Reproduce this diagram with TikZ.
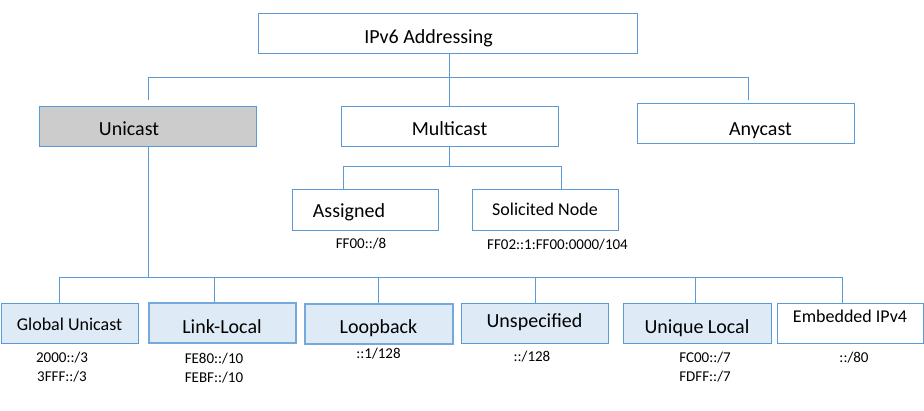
\documentclass[tikz,border=0pt]{standalone}
\usepackage{fontspec}
\setmainfont{Carlito}
\usetikzlibrary{positioning}
\definecolor{lineblue}{RGB}{91,155,213}
\definecolor{leafblue}{RGB}{222,235,247}
\definecolor{unigray}{RGB}{204,204,204}
\newcommand{\bigfont}{\fontsize{20}{24}\selectfont}
\newcommand{\midfont}{\fontsize{18}{22}\selectfont}
\newcommand{\addrfont}{\fontsize{15}{19}\selectfont}

\begin{document}
\begin{tikzpicture}[x=1pt,y=-1pt,
  box/.style={draw=lineblue,line width=1pt,minimum height=40pt,inner sep=0pt,font=\bigfont},
  drop/.style={text height=#1,text depth=0pt},
  leaf/.style={box,fill=leafblue},
  thickleaf/.style={leaf,line width=2pt,draw=lineblue!85},
  addr/.style={font=\addrfont,align=center,inner sep=0pt},
  link/.style={draw=lineblue,line width=1pt}]
  \useasboundingbox (0,0) rectangle (924,410);
  % top levels
  \node[box,drop=20pt,minimum width=379pt] (top) at (447.5,33) {IPv6 Addressing\hspace{38pt}\null};
  \node[box,drop=18pt,fill=unigray,minimum width=217pt] (uni) at (148,126) {Unicast\hspace{38pt}\null};
  \node[box,drop=18pt,minimum width=217pt] (multi) at (449.5,126) {Multicast};
  \node[box,drop=24pt,minimum width=217pt] (any) at (745.5,123) {\hspace{30pt}Anycast};
  \coordinate (tb-uni) at (148,77);
  \coordinate (tb-any) at (748,77);
  \coordinate (tip-uni) at (148,100);
  \coordinate (tip-any) at (748,100);
  \draw[link] (tip-uni) -- (tb-uni) -- (tb-any) -- (tip-any);
  \draw[link] (top.south -| multi.north) -- (multi.north);
  % multicast
  \node[box,drop=16pt,minimum width=146pt,minimum height=41pt] (asg) at (365,209.5) {Assigned\hspace{32pt}\null};
  \node[box,drop=12pt,minimum width=146pt,minimum height=41pt,font=\midfont] (sol) at (545,209.5) {Solicited Node};
  \node[addr] (asg-a) at (361,244) {FF00::/8};
  \node[addr] (sol-a) at (557.5,245) {FF02::1:FF00:0000/104};
  \coordinate (mb-asg) at (343,166);
  \coordinate (mb-sol) at (561,166);
  \draw[link] (mb-asg) -- (mb-sol);
  \draw[link] (multi.south) -- (multi.south |- mb-asg);
  \draw[link] (mb-asg) -- (mb-asg |- asg.north);
  \draw[link] (mb-sol) -- (mb-sol |- sol.north);
  % unicast
  \node[leaf,drop=14pt,minimum width=137pt,font=\midfont] (gu) at (69.5,323) {Global Unicast};
  \node[thickleaf,drop=22pt,minimum width=147pt] (ll) at (222,322.5) {Link-Local};
  \node[thickleaf,drop=18pt,minimum width=148pt] (lb) at (378.5,324) {Loopback};
  \node[leaf,drop=8pt,minimum width=147pt] (us) at (534.5,323) {Unspecified};
  \node[leaf,drop=20pt,minimum width=148pt] (ul) at (697,323.5) {Unique Local};
  \node[box,text height=0pt,text depth=2pt,minimum width=146pt,font=\midfont] (emb) at (850,323) {Embedded IPv4};
  \node[addr] (gu-a) at (62,367) {2000::/3\\3FFF::/3};
  \node[addr] (ll-a) at (214,368) {FE80::/10\\FEBF::/10};
  \node[addr] (lb-a) at (378.5,354) {::1/128};
  \node[addr] (us-a) at (532,357) {::/128};
  \node[addr] (ul-a) at (705,367) {FC00::/7\\FDFF::/7};
  \node[addr] (emb-a) at (854,358) {::/80};
  \foreach \n/\x in {gu/59,ll/214,lb/378,us/535,ul/695,emb/842}{
    \coordinate (bb-\n) at (\x,277);
    \draw[link] (bb-\n) -- (bb-\n |- \n.north);
  }
  \draw[link] (bb-gu) -- (bb-emb);
  \draw[link] (uni.south) -- (uni.south |- bb-gu);
\end{tikzpicture}
\end{document}
